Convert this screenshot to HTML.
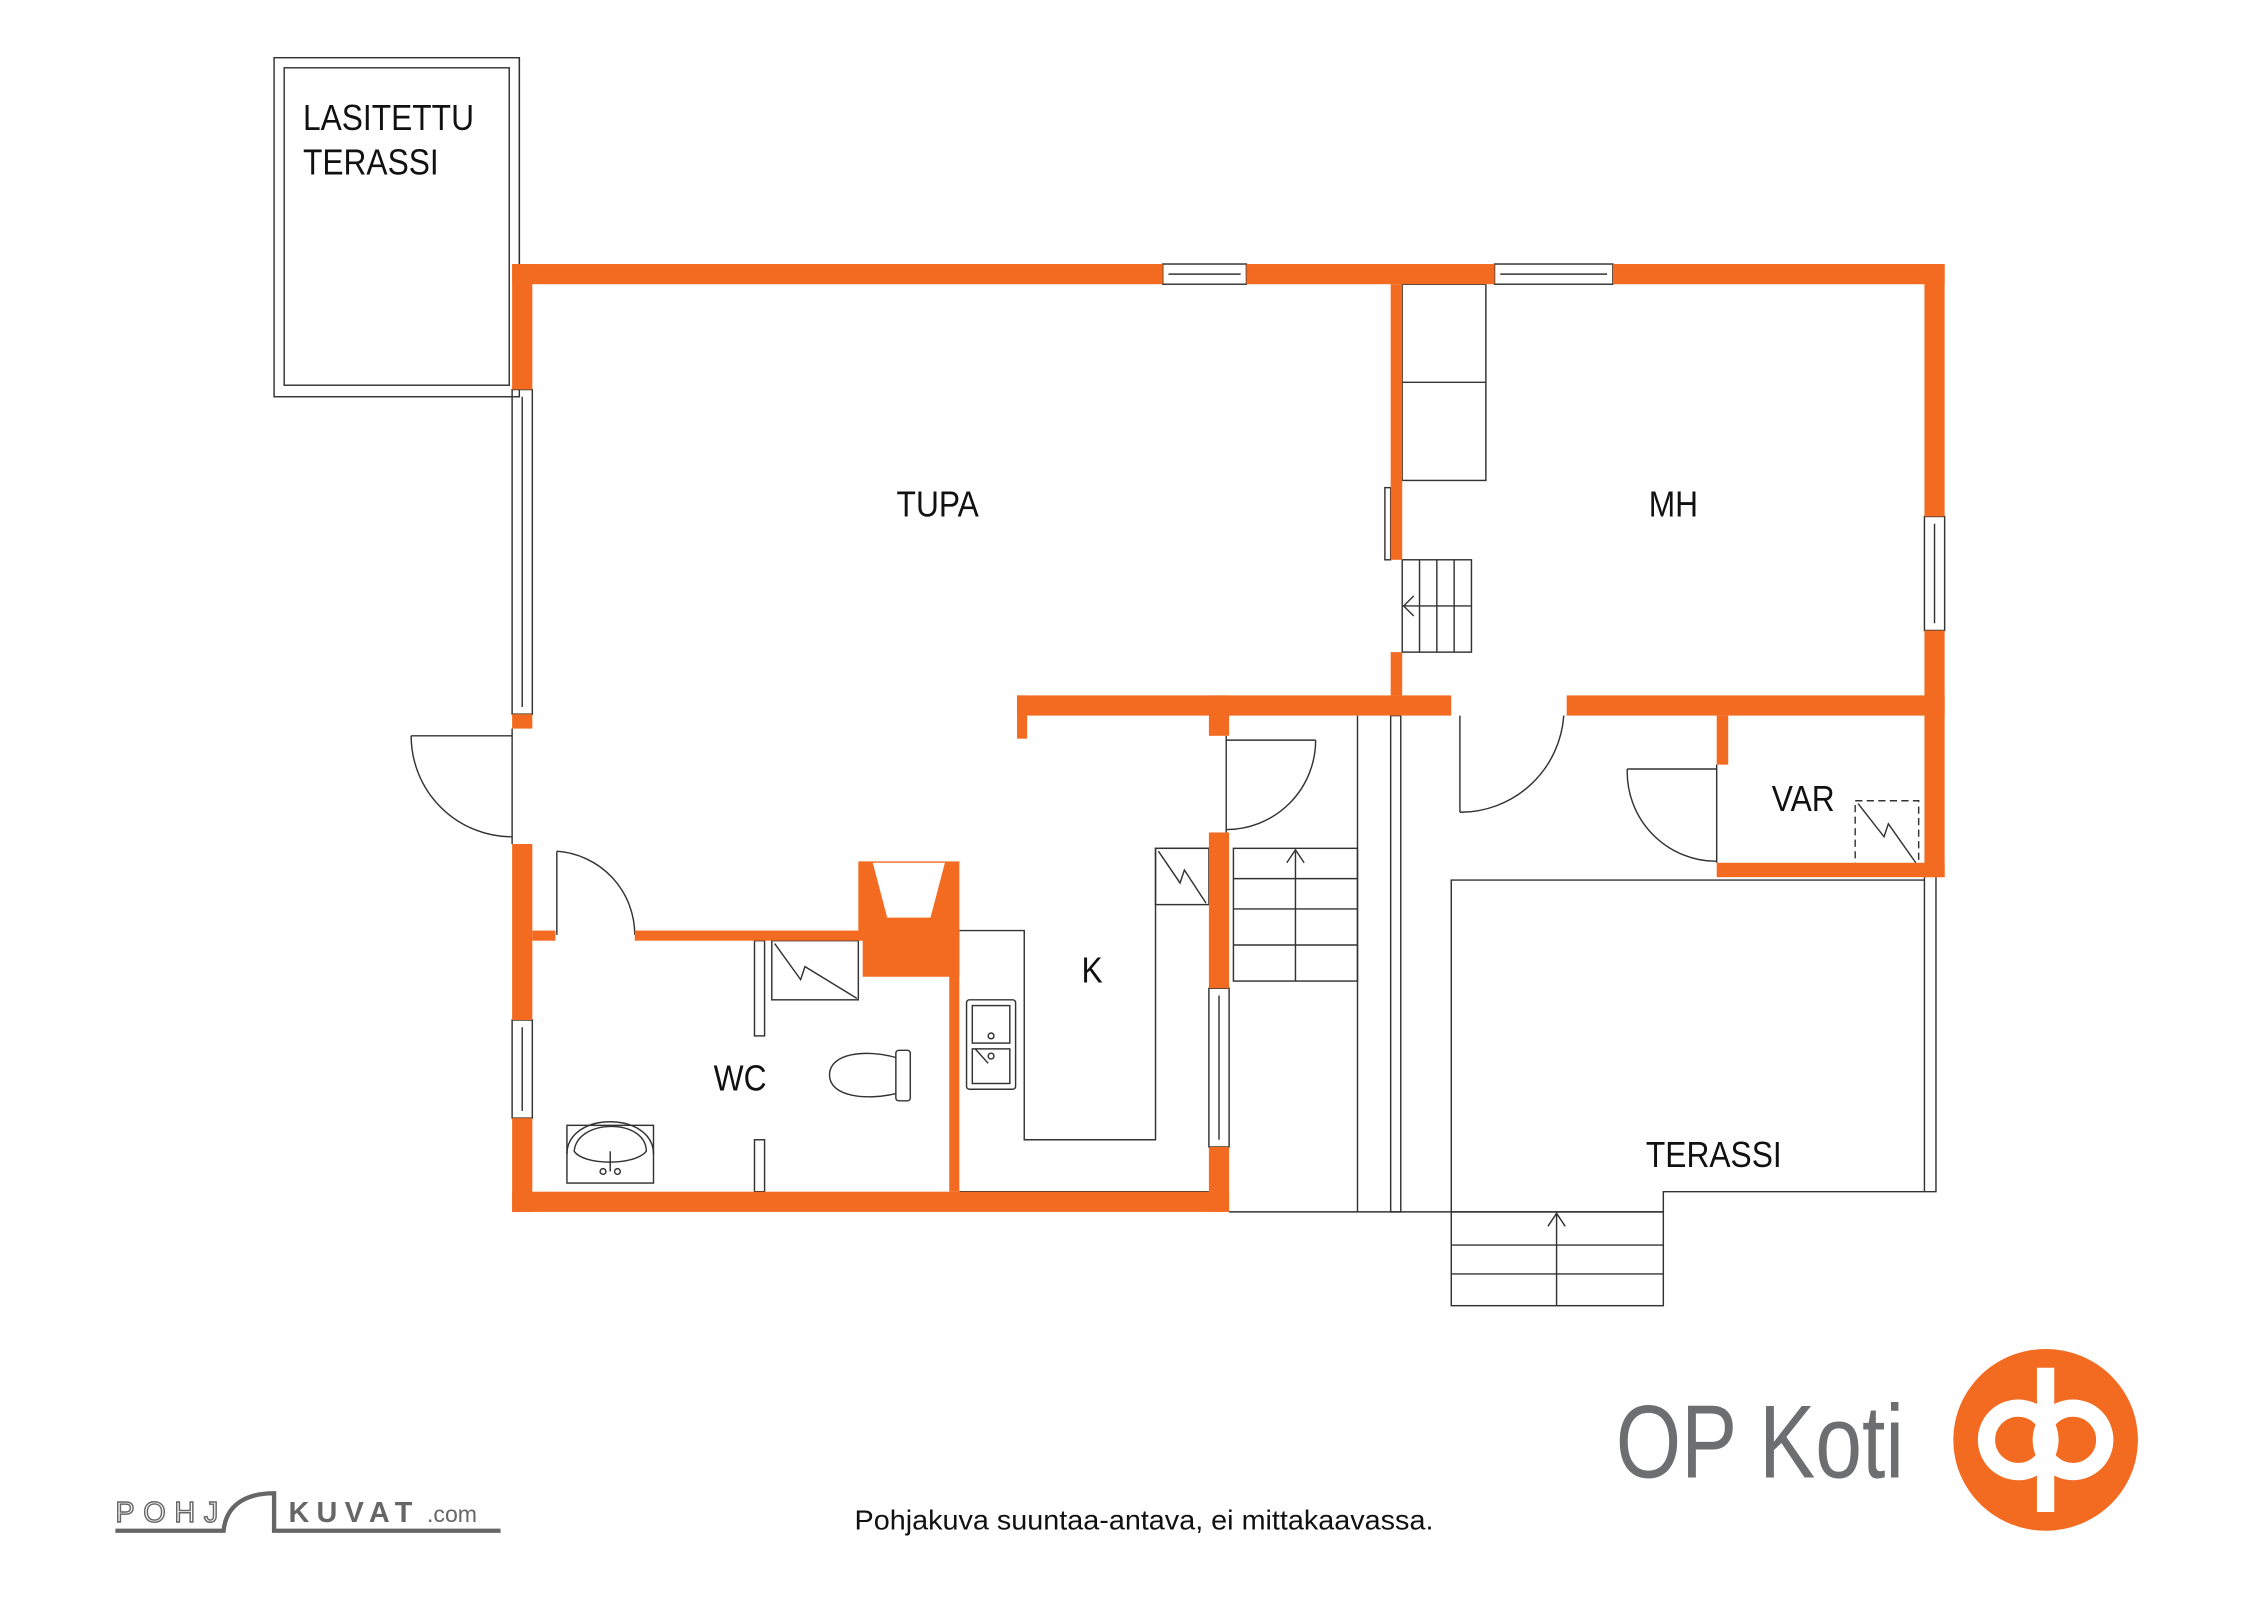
<!DOCTYPE html>
<html><head><meta charset="utf-8"><style>
html,body{margin:0;padding:0;background:#fff;}
svg{display:block;}
text{font-family:"Liberation Sans",sans-serif;fill:#111;}
</style></head><body>
<svg width="2262" height="1600" viewBox="0 0 1568 1109" preserveAspectRatio="none" xmlns="http://www.w3.org/2000/svg">
<rect x="0" y="0" width="1568" height="1109" fill="#fff"/>
<g fill="none" stroke="#333" stroke-width="1">
<rect x="190" y="40" width="170" height="235"/>
<rect x="197" y="47" width="156" height="220"/>
<line x1="360" y1="40" x2="360" y2="183"/>
<rect x="806" y="183" width="58" height="14"/><line x1="810" y1="190" x2="860" y2="190"/>
<rect x="1036" y="183" width="82" height="14"/><line x1="1040" y1="190" x2="1114" y2="190"/>
<rect x="355" y="270" width="14" height="225"/><line x1="362" y1="275" x2="362" y2="490"/>
<rect x="355" y="707" width="14" height="68"/><line x1="362" y1="712" x2="362" y2="770"/>
<rect x="1334" y="358" width="14" height="79"/><line x1="1341" y1="363" x2="1341" y2="432"/>
<rect x="838" y="685" width="14" height="110"/><line x1="845" y1="690" x2="845" y2="790"/>
<line x1="285" y1="510" x2="355" y2="510"/><path d="M285 510 A70 70 0 0 0 355 580"/>
<line x1="355" y1="505" x2="355" y2="585"/>
<line x1="386" y1="590" x2="386" y2="648"/><path d="M386 590 A58 58 0 0 1 440 648"/>
<line x1="850" y1="513" x2="912" y2="513"/><path d="M912 513 A62 62 0 0 1 850 575"/>
<line x1="850" y1="510" x2="850" y2="577"/>
<line x1="1012" y1="496" x2="1012" y2="563"/><path d="M1012 563 A72 72 0 0 0 1084 496"/>
<line x1="1128" y1="533" x2="1190" y2="533"/><path d="M1128 533 A62 62 0 0 0 1190 597"/>
<line x1="1190" y1="530" x2="1190" y2="598"/>
<path d="M665 645 H710 V790 H801 V588 H838"/>
<rect x="801" y="588" width="37" height="39"/><path d="M803 590 L818 612 L821 603 L836 626"/>
<rect x="670" y="693" width="34" height="62" rx="2"/><rect x="674" y="697" width="26" height="26"/><rect x="674" y="727" width="26" height="24"/>
<circle cx="687" cy="718" r="2"/><circle cx="687" cy="732" r="2"/><line x1="676" y1="727" x2="685" y2="737"/>
<line x1="665" y1="826" x2="838" y2="826"/>
<rect x="855" y="588" width="86" height="92"/>
<line x1="855" y1="609" x2="941" y2="609"/><line x1="855" y1="630" x2="941" y2="630"/><line x1="855" y1="655" x2="941" y2="655"/>
<line x1="898" y1="590" x2="898" y2="680"/><path d="M892 598 L898 589 L904 598"/>
<line x1="941" y1="496" x2="941" y2="840"/>
<rect x="964" y="496" width="7" height="344"/>
<line x1="852" y1="840" x2="1006" y2="840"/>
<path d="M1006 840 V610 H1334"/>
<path d="M1006 840 H1153 V826 H1342 V608"/>
<line x1="1334" y1="608" x2="1334" y2="826"/>
<rect x="1006" y="840" width="147" height="65"/>
<line x1="1006" y1="863" x2="1153" y2="863"/><line x1="1006" y1="883" x2="1153" y2="883"/>
<line x1="1079" y1="840" x2="1079" y2="905"/><path d="M1073 850 L1079 841 L1085 850"/>
<rect x="1286" y="555" width="44" height="44" stroke-dasharray="5 3"/><path d="M1288 557 L1306 580 L1309 571 L1328 598"/>
<rect x="972" y="197" width="58" height="136"/><line x1="972" y1="265" x2="1030" y2="265"/>
<rect x="960" y="338" width="4" height="50"/>
<rect x="972" y="388" width="48" height="64"/>
<line x1="984" y1="388" x2="984" y2="452"/><line x1="996" y1="388" x2="996" y2="452"/><line x1="1008" y1="388" x2="1008" y2="452"/>
<line x1="972" y1="420" x2="1020" y2="420"/><path d="M980 413 L973 420 L980 427"/>
<rect x="523" y="652" width="7" height="66"/><rect x="523" y="790" width="7" height="36"/>
<rect x="535" y="652" width="60" height="41"/><path d="M537 654 L555 679 L558 670 L594 692"/>
<rect x="621" y="728" width="10" height="35" rx="2"/>
<path d="M621 733 C600 727 575 730 575 745 C575 760 600 763 621 758"/>
<rect x="393" y="780" width="60" height="40"/>
<path d="M393 800 C393 770 453 770 453 800"/><path d="M398 798 C400 775 448 775 448 798 C440 808 405 808 398 798 Z"/>
<line x1="423" y1="798" x2="423" y2="812"/><circle cx="418" cy="812" r="2"/><circle cx="428" cy="812" r="2"/>
</g>
<g fill="#F26B21">
<rect x="355" y="183" width="451" height="14"/>
<rect x="864" y="183" width="172" height="14"/>
<rect x="1118" y="183" width="230" height="14"/>
<rect x="355" y="183" width="14" height="87"/>
<rect x="355" y="495" width="14" height="10"/>
<rect x="355" y="585" width="14" height="122"/>
<rect x="355" y="775" width="14" height="65"/>
<rect x="355" y="826" width="497" height="14"/>
<rect x="838" y="577" width="14" height="108"/>
<rect x="838" y="795" width="14" height="45"/>
<rect x="1334" y="183" width="14" height="175"/>
<rect x="1334" y="437" width="14" height="171"/>
<rect x="964" y="197" width="8" height="191"/>
<rect x="964" y="452" width="8" height="30"/>
<rect x="705" y="482" width="301" height="14"/>
<rect x="705" y="482" width="7" height="30"/>
<rect x="838" y="482" width="14" height="28"/>
<rect x="1086" y="482" width="262" height="14"/>
<rect x="1190" y="496" width="8" height="34"/>
<rect x="1190" y="598" width="158" height="10"/>
<rect x="369" y="645" width="16" height="7"/>
<rect x="440" y="645" width="158" height="7"/>
<rect x="658" y="645" width="7" height="181"/>
<path d="M595 597 H665 V677 H598 V652 H595 Z M605 598 L615 636 H645 L655 598 Z" fill-rule="evenodd"/>
</g>
<g font-size="25">
<text transform="translate(210,90) scale(0.88,1)">LASITETTU</text>
<text transform="translate(210,121) scale(0.88,1)">TERASSI</text>
<text transform="translate(650,358) scale(0.88,1)" text-anchor="middle">TUPA</text>
<text transform="translate(1160,358) scale(0.88,1)" text-anchor="middle">MH</text>
<text transform="translate(1250,562) scale(0.88,1)" text-anchor="middle">VAR</text>
<text transform="translate(757,681) scale(0.88,1)" text-anchor="middle">K</text>
<text transform="translate(513,756) scale(0.88,1)" text-anchor="middle">WC</text>
<text transform="translate(1188,809) scale(0.88,1)" text-anchor="middle">TERASSI</text>
</g>
<text transform="translate(793,1060) scale(1.05,1)" font-size="19" text-anchor="middle">Pohjakuva suuntaa-antava, ei mittakaavassa.</text>
<text transform="translate(1120,1024) scale(0.81,1)" font-size="72" style="fill:#6d6e70">OP Koti</text>
<ellipse cx="1418" cy="998" rx="64" ry="63" fill="#F26B21"/>
<g fill="none" stroke="#fff" stroke-width="12">
<circle cx="1399" cy="998" r="22"/><circle cx="1437" cy="998" r="22"/>
</g>
<rect x="1412" y="948" width="12" height="100" fill="#fff"/>
<text x="80" y="1055" font-size="20" letter-spacing="6" style="fill:#fff;stroke:#666;stroke-width:1">POHJ</text>
<text x="200" y="1055" font-size="20" font-weight="bold" letter-spacing="5" style="fill:#666">KUVAT</text>
<text x="296" y="1055" font-size="16" style="fill:#666">.com</text>
<path d="M80 1061 H155 C157 1040 175 1035 190 1035 V1061 H347" fill="none" stroke="#666" stroke-width="3"/>
</svg>
</body></html>
